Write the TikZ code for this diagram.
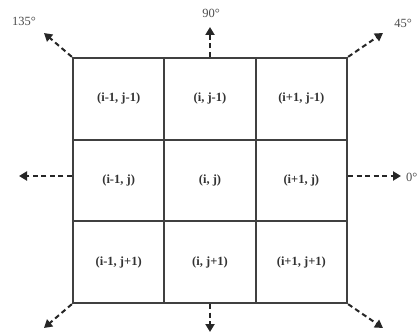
\documentclass[tikz,border=0pt]{standalone}
\usepackage{fontspec}
\setmainfont{Liberation Serif}
\usetikzlibrary{arrows.meta}
\begin{document}
\begin{tikzpicture}[x=1pt,y=-1pt,
  cell/.style={draw=black!75,line width=2.3pt,minimum width=91.33pt,minimum height=81.67pt,inner sep=0pt,font=\bfseries\fontsize{12.5}{14}\selectfont,text=black!80},
  dirarrow/.style={draw=black!85,line width=2pt,dash pattern=on 5pt off 3.5pt,-{Triangle[length=8pt,width=9pt]}},
  anglabel/.style={font=\fontsize{12.5}{14}\selectfont,text=black!70,inner sep=0pt}]
\useasboundingbox (0,0) rectangle (420,334);
\fill[white] (0,0) rectangle (420,334);
% cells
\node[cell] (a11) at (118.67,98.83) {(i-1, j-1)};
\node[cell] (a21) at (210,98.83) {(i, j-1)};
\node[cell] (a31) at (301.33,98.83) {(i+1, j-1)};
\node[cell] (a12) at (118.67,180.5) {(i-1, j)};
\node[cell] (a22) at (210,180.5) {(i, j)};
\node[cell] (a32) at (301.33,180.5) {(i+1, j)};
\node[cell] (a13) at (118.67,262.17) {(i-1, j+1)};
\node[cell] (a23) at (210,262.17) {(i, j+1)};
\node[cell] (a33) at (301.33,262.17) {(i+1, j+1)};
% arrow ends
\coordinate (e135) at (44,33);
\coordinate (e90) at (210,27);
\coordinate (e45) at (383,33);
\coordinate (e180) at (19,176);
\coordinate (e0) at (401,176);
\coordinate (e225) at (44,328);
\coordinate (e270) at (210,332);
\coordinate (e315) at (383,328);
\draw[dirarrow] (a11.north west) -- (e135);
\draw[dirarrow] (a21.north) -- (e90);
\draw[dirarrow] (a31.north east) -- (e45);
\draw[dirarrow] (a12.west |- e180) -- (e180);
\draw[dirarrow] (a32.east |- e0) -- (e0);
\draw[dirarrow] (a13.south west) -- (e225);
\draw[dirarrow] (a23.south) -- (e270);
\draw[dirarrow] (a33.south east) -- (e315);
% labels
\node[anglabel] (l135) at (24,21) {135\textdegree};
\node[anglabel] (l90) at (211,13) {90\textdegree};
\node[anglabel] (l45) at (403,23) {45\textdegree};
\node[anglabel,anchor=west] (l0) at (406,177) {0\textdegree};
\end{tikzpicture}
\end{document}
